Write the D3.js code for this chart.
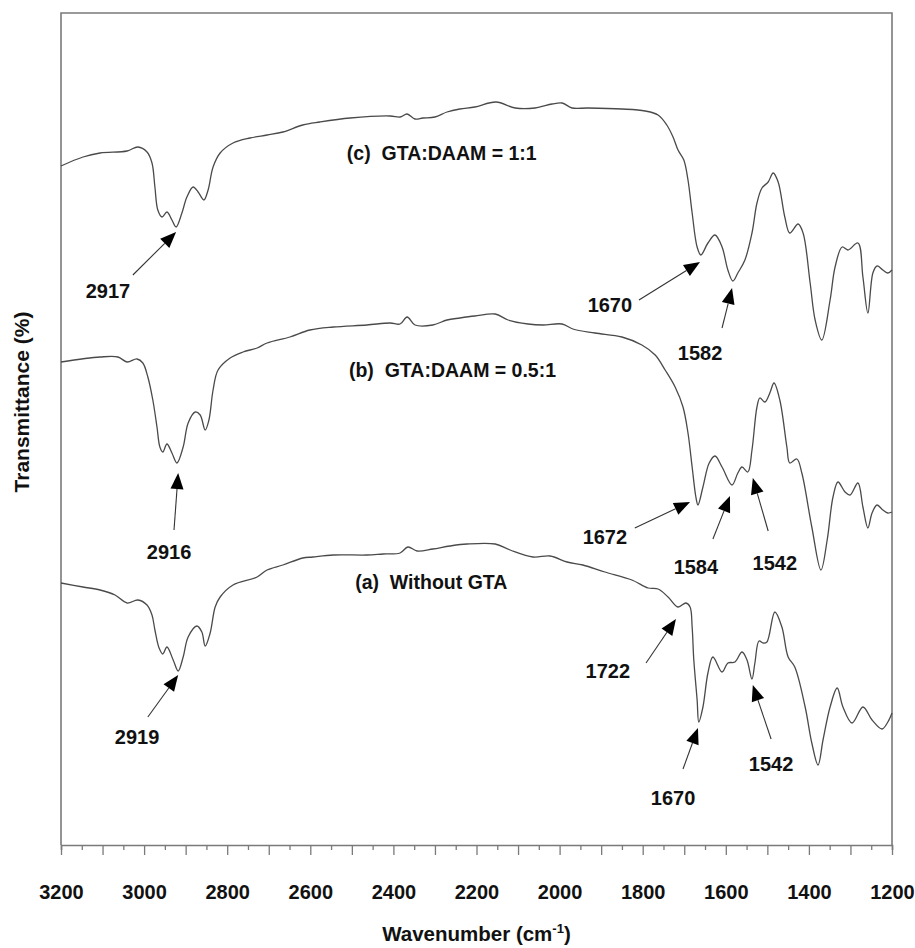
<!DOCTYPE html>
<html><head><meta charset="utf-8">
<script src="https://cdn.jsdelivr.net/npm/d3@7"></script>
<style>body{margin:0;background:#fff}svg{display:block}</style>
</head><body><svg id="chart" width="915" height="948"></svg>
<script>
// ---- data (wavenumber cm^-1, transmittance in arbitrary units, curves offset) ----
const seriesC = [[3200,679],[3147,688],[3106,692],[3041,694],[3015,698],[2993,693],[2981,682],[2974,658],[2967,635],[2957,628],[2945,633],[2933,625],[2923,618],[2909,632],[2897,648],[2882,658],[2870,653],[2856,645],[2846,655],[2834,678],[2817,692],[2786,702],[2745,707],[2704,710],[2666,713],[2618,720],[2577,723],[2504,727],[2408,729],[2384,728],[2367,731],[2348,726],[2329,727],[2300,728],[2271,733],[2240,736],[2204,738],[2153,743],[2107,737],[2059,737],[2018,741],[1994,742],[1970,737],[1932,737],[1850,736],[1794,734],[1763,730],[1742,720],[1727,708],[1715,695],[1701,685],[1691,665],[1681,632],[1669,598],[1660,590],[1643,602],[1626,610],[1609,598],[1595,575],[1583,564],[1571,572],[1554,585],[1537,612],[1525,642],[1513,657],[1498,663],[1486,672],[1474,663],[1458,628],[1446,612],[1426,621],[1414,612],[1397,562],[1385,525],[1369,505],[1349,545],[1337,578],[1320,598],[1306,595],[1282,602],[1270,568],[1258,532],[1246,572],[1236,579],[1222,575],[1210,572],[1200,575]];
const seriesB = [[3200,483],[3106,488],[3063,488],[3041,483],[3017,486],[3003,482],[2991,468],[2979,445],[2969,418],[2962,398],[2955,393],[2945,401],[2933,392],[2921,382],[2906,398],[2894,422],[2877,433],[2865,430],[2853,415],[2844,425],[2834,455],[2822,475],[2793,487],[2762,493],[2728,497],[2704,502],[2649,508],[2601,515],[2545,518],[2464,520],[2408,522],[2384,521],[2367,528],[2348,520],[2305,520],[2271,525],[2240,527],[2204,529],[2155,531],[2124,525],[2076,521],[2040,520],[1994,521],[1968,516],[1915,512],[1850,508],[1802,500],[1770,490],[1746,475],[1722,458],[1703,438],[1691,412],[1681,378],[1672,348],[1667,340],[1655,358],[1640,382],[1626,389],[1609,378],[1585,360],[1571,372],[1561,378],[1547,373],[1537,395],[1525,438],[1518,447],[1506,443],[1494,452],[1484,462],[1470,445],[1453,398],[1446,382],[1429,386],[1417,372],[1393,318],[1371,275],[1356,305],[1342,348],[1330,363],[1313,353],[1301,350],[1282,362],[1270,338],[1258,317],[1248,332],[1236,340],[1222,335],[1210,332],[1200,333]];
const seriesA = [[3200,262],[3147,258],[3106,255],[3070,250],[3041,242],[3015,245],[2993,240],[2981,230],[2974,215],[2964,197],[2955,191],[2945,198],[2930,185],[2918,174],[2906,188],[2894,208],[2873,219],[2861,213],[2853,199],[2841,212],[2829,238],[2817,248],[2786,260],[2728,268],[2704,275],[2666,280],[2618,287],[2594,288],[2545,290],[2464,290],[2425,291],[2384,292],[2365,298],[2343,294],[2305,296],[2264,299],[2223,301],[2155,301],[2119,295],[2064,288],[2023,289],[1982,283],[1944,280],[1891,273],[1826,265],[1787,257],[1763,256],[1739,248],[1715,238],[1696,242],[1686,238],[1681,218],[1677,185],[1669,145],[1665,123],[1655,138],[1643,172],[1631,188],[1609,173],[1595,182],[1578,183],[1561,193],[1549,185],[1537,166],[1530,182],[1520,204],[1510,202],[1501,203],[1482,233],[1465,218],[1450,188],[1434,178],[1409,138],[1393,102],[1378,80],[1366,105],[1349,138],[1332,157],[1318,138],[1296,122],[1270,138],[1248,125],[1224,116],[1210,123],[1200,132]];

const seriesLabels = [
  {tag:"(c)", text:"GTA:DAAM = 1:1", w:2512, v:692},
  {tag:"(b)", text:"GTA:DAAM = 0.5:1", w:2507, v:475},
  {tag:"(a)", text:"Without GTA", w:2492, v:263}
];
// peak annotations: label, arrow tip, arrow tail, label centre (data units)
const peakLabels = ["2917","1670","1582","2916","1672","1584","1542","2919","1722","1670","1542"];
const peakTips   = [[2923,613],[1662,583],[1585,557],[2918,372],[1686,343],[1590,349],[1535,367],[2918,170],[1720,226],[1667,117],[1535,160]];
const peakTails  = [[3027,570],[1809,545],[1609,517],[2928,315],[1819,317],[1631,306],[1498,314],[2991,128],[1792,182],[1703,76],[1491,106]];
const peakText   = [[3087,554],[1879,540],[1662,492],[2940,293],[1891,308],[1672,278],[1482,282],[3017,108],[1884,174],[1727,47],[1491,81]];

const xTicksMajor = [3200,3000,2800,2600,2400,2200,2000,1800,1600,1400,1200];
const xDomain = [3200,1200];
const yDomain = [0,832];

// ---- layout ----
const L=61, R=892, T=13, B=845;
const svg = d3.select("#chart");
const x = d3.scaleLinear().domain(xDomain).range([L,R]);
const y = d3.scaleLinear().domain(yDomain).range([B,T]);
const FONT = "'Liberation Sans', Arial, Helvetica, sans-serif";

// frame
svg.append("path")
  .attr("d", `M${L},${B}V${T}H${R}V${B}`)
  .attr("fill","none").attr("stroke","#7a7a7a").attr("stroke-width",1.6);

// x axis
const ax = svg.append("g").attr("transform",`translate(0,${B})`)
  .call(d3.axisBottom(x).tickValues(d3.range(1200,3201,50)).tickSize(5).tickPadding(35)
     .tickFormat(d => xTicksMajor.includes(d) ? String(d) : ""));
ax.select(".domain").attr("stroke","#7a7a7a").attr("stroke-width",1.6);
ax.selectAll(".tick line").attr("stroke","#7a7a7a").attr("stroke-width",1.3)
  .attr("y2", d => d % 100 === 0 ? 10 : 5);
ax.selectAll(".tick text").attr("font-family",FONT).attr("font-weight","bold")
  .attr("font-size",20).attr("fill","#111");

// axis titles
const xt = svg.append("text").attr("x",(L+R)/2).attr("y",941).attr("text-anchor","middle")
  .attr("font-family",FONT).attr("font-weight","bold").attr("font-size",20.5).attr("fill","#111");
xt.append("tspan").text("Wavenumber (cm");
xt.append("tspan").text("-1").attr("font-size",13).attr("dy",-8);
xt.append("tspan").text(")").attr("dy",8);

svg.append("text").attr("transform","translate(29,402) rotate(-90)").attr("text-anchor","middle")
  .attr("font-family",FONT).attr("font-weight","bold").attr("font-size",21).attr("fill","#111")
  .text("Transmittance (%)");

// spectra
const line = d3.line().x(d=>x(d[0])).y(d=>y(d[1])).curve(d3.curveCatmullRom.alpha(0.5));
[seriesC, seriesB, seriesA].forEach(s => {
  svg.append("path").datum(s).attr("d",line)
    .attr("fill","none").attr("stroke","#4a4a4a").attr("stroke-width",1.3);
});

// series labels
seriesLabels.forEach(d => {
  const t = svg.append("text").attr("x",x(d.w)).attr("y",y(d.v)).attr("dy","0.35em")
    .attr("font-family",FONT).attr("font-size",19.5).attr("font-weight","bold").attr("fill","#111");
  t.append("tspan").text(d.tag);
  t.append("tspan").text("\u00a0\u00a0"+d.text);
});

// peak arrows
peakLabels.forEach((lab,i) => {
  const [tx,ty] = [x(peakTips[i][0]), y(peakTips[i][1])];
  const [sx,sy] = [x(peakTails[i][0]), y(peakTails[i][1])];
  const ang = Math.atan2(ty-sy, tx-sx);
  const hl = 16, hw = 6.5;
  const bx = tx - hl*Math.cos(ang), by = ty - hl*Math.sin(ang);
  svg.append("line").attr("x1",sx).attr("y1",sy).attr("x2",bx).attr("y2",by)
    .attr("stroke","#333").attr("stroke-width",1.1);
  const px = -Math.sin(ang)*hw, py = Math.cos(ang)*hw;
  svg.append("path").attr("d",`M${tx},${ty}L${bx+px},${by+py}L${bx-px},${by-py}Z`).attr("fill","#000");
  svg.append("text").attr("x",x(peakText[i][0])).attr("y",y(peakText[i][1])).attr("dy","0.35em")
    .attr("text-anchor","middle").attr("font-family",FONT).attr("font-weight","bold")
    .attr("font-size",20).attr("fill","#111").text(lab);
});
</script></body></html>
